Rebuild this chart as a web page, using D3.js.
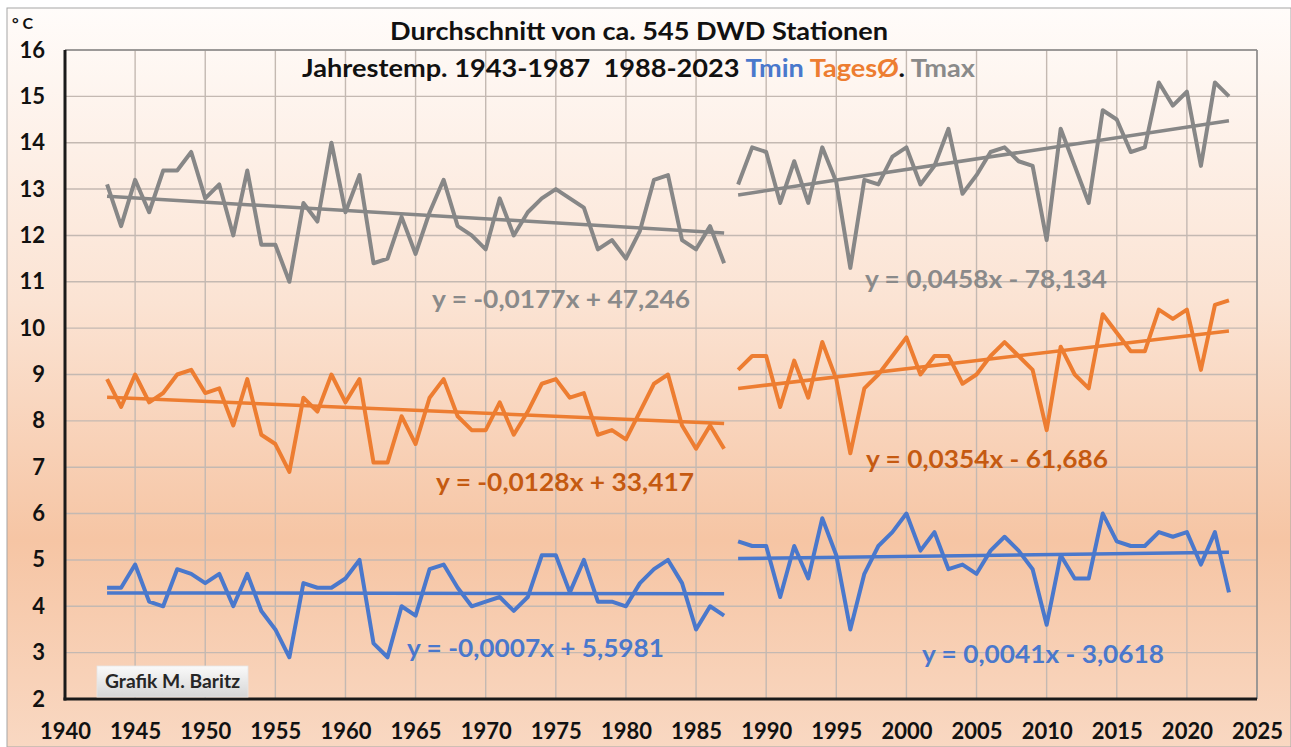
<!DOCTYPE html>
<html><head><meta charset="utf-8">
<script src="https://cdn.jsdelivr.net/npm/d3@7"></script>
<style>html,body{margin:0;padding:0;background:#fff;}svg{display:block;}</style>
</head><body>
<script>
const yearsA = d3.range(1943, 1988);
const yearsB = d3.range(1988, 2024);
const tmaxA = [13.1,12.2,13.2,12.5,13.4,13.4,13.8,12.8,13.1,12.0,13.4,11.8,11.8,11.0,12.7,12.3,14.0,12.5,13.3,11.4,11.5,12.4,11.6,12.5,13.2,12.2,12.0,11.7,12.8,12.0,12.5,12.8,13.0,12.8,12.6,11.7,11.9,11.5,12.1,13.2,13.3,11.9,11.7,12.2,11.4];
const tmaxB = [13.1,13.9,13.8,12.7,13.6,12.7,13.9,13.15,11.3,13.2,13.1,13.7,13.9,13.1,13.5,14.3,12.9,13.3,13.8,13.9,13.6,13.5,11.9,14.3,13.5,12.7,14.7,14.5,13.8,13.9,15.3,14.8,15.1,13.5,15.3,15.0];
const tagA = [8.9,8.3,9.0,8.4,8.6,9.0,9.1,8.6,8.7,7.9,8.9,7.7,7.5,6.9,8.5,8.2,9.0,8.4,8.9,7.1,7.1,8.1,7.5,8.5,8.9,8.1,7.8,7.8,8.4,7.7,8.2,8.8,8.9,8.5,8.6,7.7,7.8,7.6,8.2,8.8,9.0,7.9,7.4,7.9,7.4];
const tagB = [9.1,9.4,9.4,8.3,9.3,8.5,9.7,8.9,7.3,8.7,9.0,9.4,9.8,9.0,9.4,9.4,8.8,9.0,9.4,9.7,9.4,9.1,7.8,9.6,9.0,8.7,10.3,9.9,9.5,9.5,10.4,10.2,10.4,9.1,10.5,10.6];
const tminA = [4.4,4.4,4.9,4.1,4.0,4.8,4.7,4.5,4.7,4.0,4.7,3.9,3.5,2.9,4.5,4.4,4.4,4.6,5.0,3.2,2.9,4.0,3.8,4.8,4.9,4.4,4.0,4.1,4.2,3.9,4.2,5.1,5.1,4.3,5.0,4.1,4.1,4.0,4.5,4.8,5.0,4.5,3.5,4.0,3.8];
const tminB = [5.4,5.3,5.3,4.2,5.3,4.6,5.9,5.1,3.5,4.7,5.3,5.6,6.0,5.2,5.6,4.8,4.9,4.7,5.2,5.5,5.2,4.8,3.6,5.1,4.6,4.6,6.0,5.4,5.3,5.3,5.6,5.5,5.6,4.9,5.6,4.3];
const trendLabels = {tmaxA:"y = -0,0177x + 47,246", tmaxB:"y = 0,0458x - 78,134", tagA:"y = -0,0128x + 33,417", tagB:"y = 0,0354x - 61,686", tminA:"y = -0,0007x + 5,5981", tminB:"y = 0,0041x - 3,0618"};
const xTicks = d3.range(1940, 2026, 5);
const yTicks = d3.range(2, 17, 1);

const W = 1291, H = 747;
const FONT = "Lato, 'Open Sans', sans-serif";
const svg = d3.select("body").append("svg").attr("width", W).attr("height", H);
const defs = svg.append("defs");
const bg = defs.append("linearGradient").attr("id","bg").attr("x1",0).attr("y1",0).attr("x2",0).attr("y2",1);
[["0%","#fffcfa"],["40%","#fbe3d3"],["72%","#f6c5a4"],["100%","#f9d8c2"]].forEach(s=>bg.append("stop").attr("offset",s[0]).attr("stop-color",s[1]));
const bx = defs.append("linearGradient").attr("id","boxg").attr("x1",0).attr("y1",0).attr("x2",0).attr("y2",1);
[["0%","#fafafa"],["100%","#d6d6d6"]].forEach(s=>bx.append("stop").attr("offset",s[0]).attr("stop-color",s[1]));

svg.append("rect").attr("x",7).attr("y",8).attr("width",W-7).attr("height",H-8).attr("fill","url(#bg)").attr("stroke","#a6a6a6").attr("stroke-width",1);

const m = {l:65, r:1257, t:50, b:699};
const x = d3.scaleLinear().domain([1940, 2025]).range([m.l, m.r]);
const y = d3.scaleLinear().domain([2, 16]).range([m.b, m.t]);

const g = svg.append("g");
g.selectAll("line.h").data(yTicks).join("line").attr("x1",m.l).attr("x2",m.r).attr("y1",d=>y(d)).attr("y2",d=>y(d)).attr("stroke","#c4b9b2").attr("stroke-width",1.4);
g.selectAll("line.v").data(xTicks).join("line").attr("y1",m.t).attr("y2",m.b).attr("x1",d=>x(d)).attr("x2",d=>x(d)).attr("stroke","#c4b9b2").attr("stroke-width",1.4);

svg.append("line").attr("x1",m.l).attr("x2",m.r).attr("y1",m.t).attr("y2",m.t).attr("stroke","#8a8a8a").attr("stroke-width",1.5);
svg.append("line").attr("x1",m.r).attr("x2",m.r).attr("y1",m.t).attr("y2",m.b).attr("stroke","#8a8a8a").attr("stroke-width",1.5);

const xAxis = d3.axisBottom(x).tickValues(xTicks).tickFormat(d3.format("d")).tickSize(0).tickPadding(24);
const ax = svg.append("g").attr("transform",`translate(0,${m.b})`).call(xAxis);
ax.select(".domain").remove();
ax.selectAll("text").attr("font-family",FONT).attr("font-weight","bold").attr("font-size","22px").attr("fill","#111");
const yAxis = d3.axisLeft(y).tickValues(yTicks).tickFormat(d3.format("d")).tickSize(0).tickPadding(20);
const ay = svg.append("g").attr("transform",`translate(${m.l},0)`).call(yAxis);
ay.select(".domain").remove();
ay.selectAll("text").attr("font-family",FONT).attr("font-weight","bold").attr("font-size","22px").attr("fill","#111");

svg.append("line").attr("x1",m.l).attr("x2",m.l).attr("y1",m.t).attr("y2",m.b+1.5).attr("stroke","#1a1a1a").attr("stroke-width",3);
svg.append("line").attr("x1",m.l-1.5).attr("x2",m.r).attr("y1",m.b).attr("y2",m.b).attr("stroke","#1a1a1a").attr("stroke-width",3);

const series = [
  {key:"tmaxA", years:yearsA, vals:tmaxA, color:"#878787"},
  {key:"tmaxB", years:yearsB, vals:tmaxB, color:"#878787"},
  {key:"tagA", years:yearsA, vals:tagA, color:"#ed7d31"},
  {key:"tagB", years:yearsB, vals:tagB, color:"#ed7d31"},
  {key:"tminA", years:yearsA, vals:tminA, color:"#4a78cc"},
  {key:"tminB", years:yearsB, vals:tminB, color:"#4a78cc"}
];
function linfit(xs, ys){
  const mx = d3.mean(xs), my = d3.mean(ys);
  let sxy=0, sxx=0;
  xs.forEach((xv,i)=>{sxy+=(xv-mx)*(ys[i]-my); sxx+=(xv-mx)*(xv-mx);});
  const b = sxy/sxx; return {b, a: my - b*mx};
}
const line = d3.line().x(d=>x(d[0])).y(d=>y(d[1]));
series.forEach(s=>{
  const pts = s.years.map((yr,i)=>[yr, s.vals[i]]);
  svg.append("path").attr("d", line(pts)).attr("fill","none").attr("stroke",s.color).attr("stroke-width",4).attr("stroke-linejoin","round");
  const f = linfit(s.years, s.vals);
  const y0 = s.years[0], y1 = s.years[s.years.length-1];
  svg.append("path").attr("d", line([[y0, f.a+f.b*y0],[y1, f.a+f.b*y1]])).attr("fill","none").attr("stroke",s.color).attr("stroke-width",3.5);
});

const labelPos = {tmaxA:[432,299,"#8a8a8a",258], tmaxB:[865,279,"#8a8a8a",242], tagA:[436,482,"#c55a11",258], tagB:[866,459,"#c55a11",242], tminA:[407,648,"#4a78cc",257], tminB:[922,654,"#4a78cc",242]};
Object.keys(labelPos).forEach(k=>{
  const p = labelPos[k];
  svg.append("text").attr("x",p[0]).attr("y",p[1]).attr("dy","0.35em")
    .attr("font-family",FONT).attr("font-weight","bold").attr("font-size","25px").attr("fill",p[2])
    .attr("textLength",p[3]).attr("lengthAdjust","spacingAndGlyphs").text(trendLabels[k]);
});

svg.append("text").attr("x",390).attr("y",31).attr("dy","0.35em").attr("font-family",FONT).attr("font-weight","bold").attr("font-size","25px").attr("fill","#111")
  .attr("textLength",498).attr("lengthAdjust","spacingAndGlyphs").text("Durchschnitt von ca. 545 DWD Stationen");
const t2 = svg.append("text").attr("x",302).attr("y",68).attr("dy","0.35em").attr("font-family",FONT).attr("font-weight","bold").attr("font-size","25px").attr("fill","#111").attr("xml:space","preserve")
  .attr("textLength",673).attr("lengthAdjust","spacingAndGlyphs");
t2.append("tspan").text("Jahrestemp. 1943-1987  1988-2023 ");
t2.append("tspan").attr("fill","#4a78cc").text("Tmin ");
t2.append("tspan").attr("fill","#ed7d31").text("TagesØ");
t2.append("tspan").attr("fill","#111").text(". ");
t2.append("tspan").attr("fill","#8a8a8a").text("Tmax");
svg.append("text").attr("x",12).attr("y",23).attr("dy","0.35em").attr("font-family",FONT).attr("font-weight","bold").attr("font-size","16px").attr("fill","#111").text("° C");

svg.append("rect").attr("x",97).attr("y",666).attr("width",151).attr("height",31).attr("fill","url(#boxg)").attr("stroke","#e6e6e6").attr("stroke-width",0.8);
svg.append("text").attr("x",105).attr("y",682).attr("dy","0.35em").attr("font-family",FONT).attr("font-weight","bold").attr("font-size","18px").attr("fill","#262626")
  .attr("textLength",135).attr("lengthAdjust","spacingAndGlyphs").text("Grafik M. Baritz");
</script>
</body></html>
